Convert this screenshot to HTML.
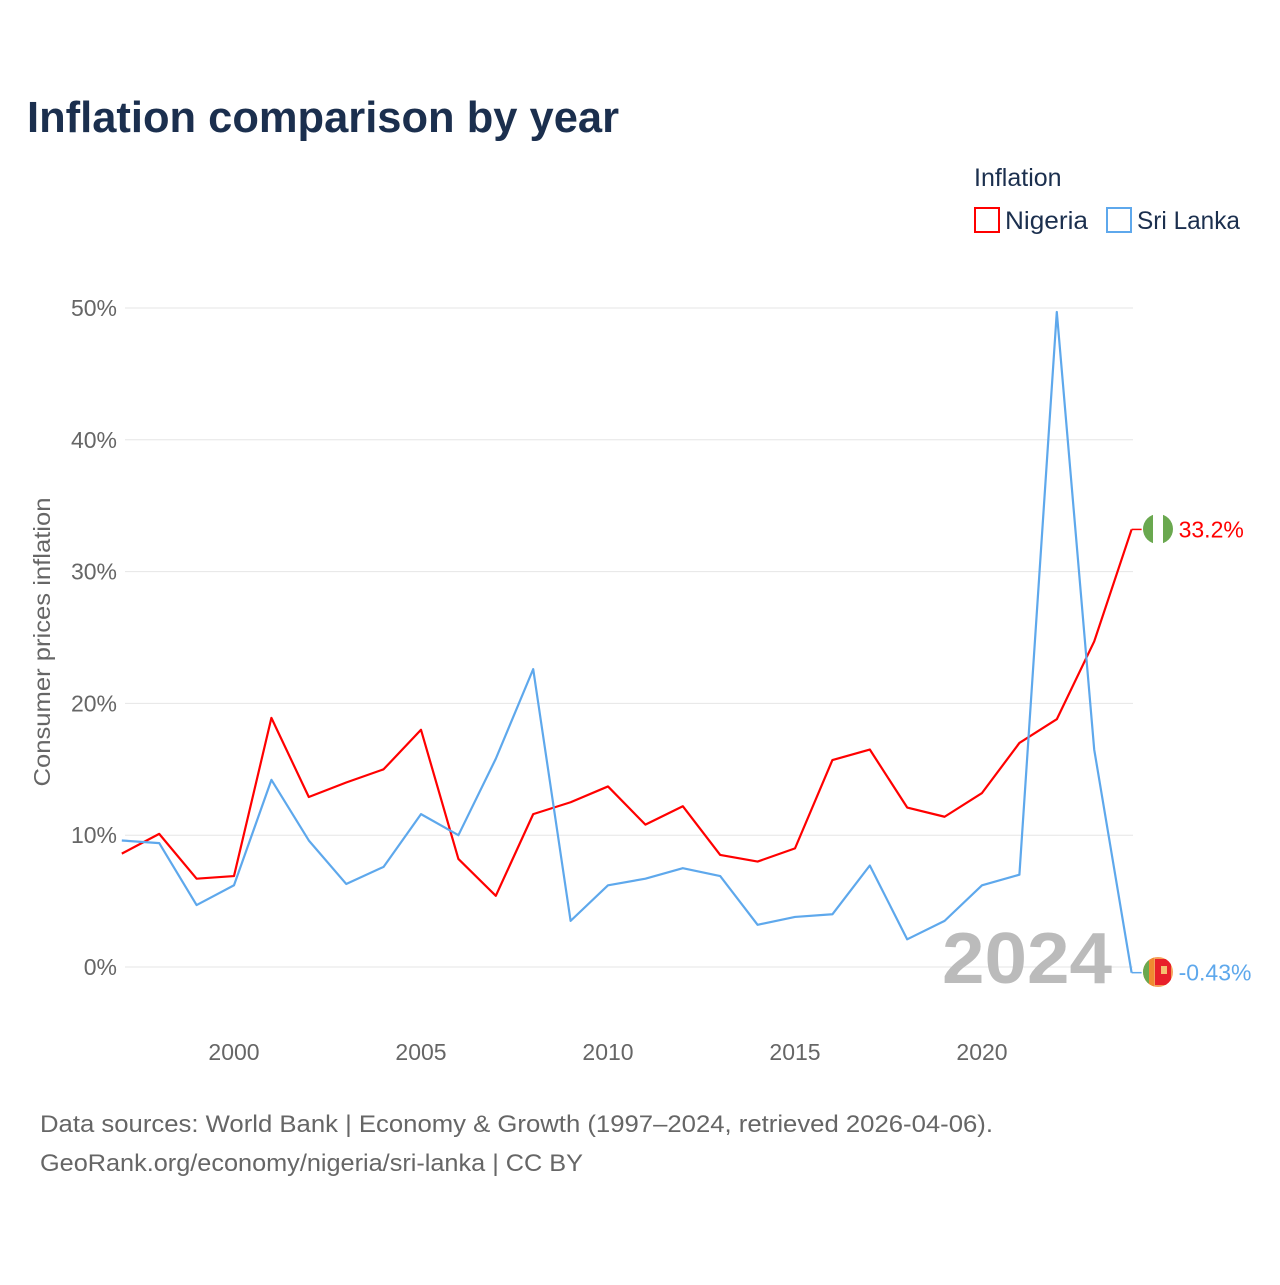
<!DOCTYPE html>
<html><head><meta charset="utf-8"><style>
body{margin:0;background:#fff;width:1280px;height:1280px;overflow:hidden;font-family:"Liberation Sans",sans-serif}
svg text{font-family:"Liberation Sans",sans-serif}
</style></head><body>
<svg id="chart" width="1280" height="1280">
<defs>
<clipPath id="cn"><circle cx="1158" cy="529" r="15"/></clipPath>
<clipPath id="cs"><circle cx="1158" cy="972" r="15"/></clipPath>
</defs>
<text x="27" y="132" font-size="44" font-weight="bold" fill="#1b2f4e" textLength="592" lengthAdjust="spacingAndGlyphs">Inflation comparison by year</text>
<text x="974" y="186" font-size="25" fill="#1b2f4e">Inflation</text>
<g><rect x="975" y="208" width="24" height="24" fill="none" stroke="#f00" stroke-width="2"/><text x="1005" y="229" font-size="25" fill="#1b2f4e" textLength="83" lengthAdjust="spacingAndGlyphs">Nigeria</text></g>
<g><rect x="1107" y="208" width="24" height="24" fill="none" stroke="#5ea8ec" stroke-width="2"/><text x="1137" y="229" font-size="25" fill="#1b2f4e" textLength="103" lengthAdjust="spacingAndGlyphs">Sri Lanka</text></g>
<g id="grid"></g><g id="xt"></g>
<text transform="translate(50,642) rotate(-90)" text-anchor="middle" font-size="23" fill="#666" textLength="289" lengthAdjust="spacingAndGlyphs">Consumer prices inflation</text>
<text x="942" y="983" font-size="72" font-weight="bold" fill="#bbb" textLength="170" lengthAdjust="spacingAndGlyphs">2024</text>
<g id="lines"></g>
<g clip-path="url(#cn)">
<rect x="1143" y="514" width="10" height="30" fill="#6aa84f"/><rect x="1153" y="514" width="10" height="30" fill="#fff"/><rect x="1163" y="514" width="10" height="30" fill="#6aa84f"/></g>
<g clip-path="url(#cs)">
<rect x="1143" y="957" width="30" height="30" fill="#f5a05a"/><rect x="1143" y="957" width="6" height="30" fill="#6aa84f"/><rect x="1149" y="957" width="5" height="30" fill="#f08a30"/><rect x="1155" y="959" width="16" height="26" fill="#e8202a"/><rect x="1161" y="966" width="6" height="8" fill="#f5c070"/></g>
<text x="40" y="1132" font-size="24" fill="#666" textLength="953" lengthAdjust="spacingAndGlyphs">Data sources: World Bank | Economy &amp; Growth (1997–2024, retrieved 2026-04-06).</text>
<text x="40" y="1171" font-size="24" fill="#666" textLength="543" lengthAdjust="spacingAndGlyphs">GeoRank.org/economy/nigeria/sri-lanka | CC BY</text>
</svg>
<script>
const years=[1997,1998,1999,2000,2001,2002,2003,2004,2005,2006,2007,2008,2009,2010,2011,2012,2013,2014,2015,2016,2017,2018,2019,2020,2021,2022,2023,2024];
const nigeria=[8.6,10.1,6.7,6.9,18.9,12.9,14.0,15.0,18.0,8.2,5.4,11.6,12.5,13.7,10.8,12.2,8.5,8.0,9.0,15.7,16.5,12.1,11.4,13.2,17.0,18.8,24.7,33.2];
const sriLanka=[9.6,9.4,4.7,6.2,14.2,9.6,6.3,7.6,11.6,10.0,15.8,22.6,3.5,6.2,6.7,7.5,6.9,3.2,3.8,4.0,7.7,2.1,3.5,6.2,7.0,49.7,16.5,-0.43];
const yTicks=[0,10,20,30,40,50];
const xTicks=[2000,2005,2010,2015,2020];
const X=y=>121.8+(y-1997)*37.4, Y=v=>967-v*13.18;
const NS="http://www.w3.org/2000/svg",svg=document.getElementById('chart');
function mk(t,a,p){const e=document.createElementNS(NS,t);for(const k in a)e.setAttribute(k,a[k]);p.appendChild(e);return e;}
const g=document.getElementById('grid');
yTicks.forEach(t=>{const l=mk('line',{x1:125,x2:1133,y1:Y(t),y2:Y(t),stroke:'#e6e6e6','stroke-width':1},g);


const tx=mk('text',{x:117,y:Y(t)+8,'text-anchor':'end','font-size':23,fill:'#666'},g);tx.textContent=t+'%';

});
const xt=document.getElementById('xt');
xTicks.forEach(t=>{const tx=mk('text',{x:X(t),y:1060,'text-anchor':'middle','font-size':23,fill:'#666'},xt);tx.textContent=t;

});
const L=document.getElementById('lines');
function series(vals,col,name,lab){
const p=mk('polyline',{points:vals.map((v,i)=>X(years[i])+','+Y(v)).join(' '),fill:'none',stroke:col,'stroke-width':2.2,'stroke-linejoin':'round'},L);


const lv=vals[vals.length-1],lx=X(years[years.length-1]);
mk('line',{x1:lx,x2:lx+10,y1:Y(lv),y2:Y(lv),stroke:col,'stroke-width':1.5},L);
const t=mk('text',{x:lx+47,y:Y(lv)+8,'font-size':23,fill:col},L);t.textContent=lab;

}
series(nigeria,'#f00','nigeria','33.2%');
series(sriLanka,'#5ea8ec','sri-lanka','-0.43%');
</script>
</body></html>
